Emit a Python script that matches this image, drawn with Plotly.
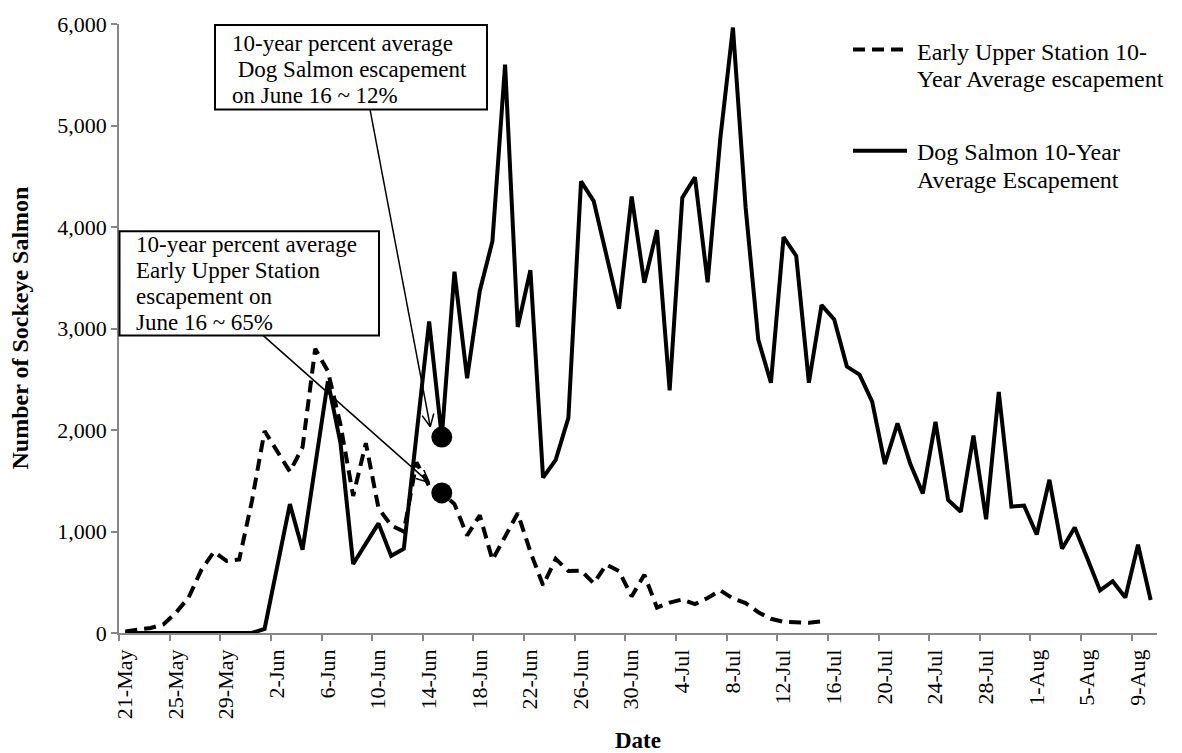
import math
import plotly.graph_objects as go

# ---- categories: one per day, 21-May through 10-Aug ----
day_labels = ([f"{d}-May" for d in range(21, 32)]
              + [f"{d}-Jun" for d in range(1, 31)]
              + [f"{d}-Jul" for d in range(1, 32)]
              + [f"{d}-Aug" for d in range(1, 11)])
tick_labels = day_labels[::4]

# ---- daily 10-year average escapement ----
early_upper = [15, 30, 50, 85, 200, 350, 620, 800, 710, 725,
               1300, 1990, 1790, 1590, 1830, 2800, 2580, 2050, 1350, 1870,
               1230, 1060, 1000, 1680, 1450, 1380, 1270, 960, 1160, 720,
               950, 1180, 800, 470, 730, 610, 615, 490, 675, 610,
               360, 575, 250, 300, 330, 285, 345, 420, 340, 295,
               205, 140, 110, 105, 100, 115]

dog_salmon = [0, 0, 0, 0, 0, 0, 0, 0, 0, 0,
              0, 40, 650, 1270, 820, 1650, 2480, 1870, 680, 880,
              1080, 760, 830, 1950, 3070, 1930, 3560, 2510, 3370, 3860,
              5600, 3015, 3575, 1530, 1705, 2120, 4450, 4255, 3720, 3195,
              4300, 3450, 3970, 2390, 4290, 4490, 3455, 4870, 5965, 4195,
              2890, 2465, 3900, 3715, 2465, 3230, 3090, 2625, 2545, 2280,
              1665, 2065, 1670, 1375, 2080, 1310, 1195, 1945, 1120, 2375,
              1245, 1255, 970, 1510, 830, 1040, 735, 420, 510, 350,
              870, 325]

series_names = ["Early Upper Station 10-Year Average escapement",
                "Dog Salmon 10-Year Average Escapement"]
callout_day = 25  # day index highlighted by the two callouts

# ---- page geometry (pixels) ----
FIG_W, FIG_H = 1182, 753
M_L, M_R, M_T, M_B = 119, 25, 13, 120
PW = FIG_W - M_L - M_R
PH = FIG_H - M_T - M_B
N_DAYS = len(day_labels)
Y_MAX = 6000
FONT = "Liberation Serif"
AXIS_GRAY = "#868686"
DASH = "12px,7px"


def xp(px):
    return (px - M_L) / PW


def yp(py):
    return (FIG_H - M_B - py) / PH


def data_px(i, v):
    return M_L + (i + 0.5) * PW / N_DAYS, (FIG_H - M_B) - v / Y_MAX * PH


x_idx = list(range(N_DAYS))

fig = go.Figure()
fig.add_trace(go.Scatter(
    x=x_idx[:len(early_upper)], y=early_upper, mode="lines",
    name=series_names[0], showlegend=False,
    line=dict(color="black", width=4, dash=DASH)))
fig.add_trace(go.Scatter(
    x=x_idx, y=dog_salmon, mode="lines",
    name=series_names[1], showlegend=False,
    line=dict(color="black", width=4)))
fig.add_trace(go.Scatter(
    x=[callout_day, callout_day],
    y=[dog_salmon[callout_day], early_upper[callout_day]],
    mode="markers", showlegend=False,
    marker=dict(color="black", size=21)))

shapes = []
annotations = []


def text_line(txt, px, py, size=23):
    annotations.append(dict(
        text=txt, xref="paper", yref="paper", x=xp(px), y=yp(py),
        xanchor="left", yanchor="middle", showarrow=False,
        font=dict(family=FONT, size=size, color="black")))


def box(x0, y0, x1, y1):
    shapes.append(dict(type="rect", xref="paper", yref="paper",
                       x0=xp(x0), x1=xp(x1), y0=yp(y1), y1=yp(y0),
                       line=dict(color="black", width=2),
                       fillcolor="white", layer="above"))


def seg(x0, y0, x1, y1, width=1.5, dash=None):
    ln = dict(color="black", width=width)
    if dash:
        ln["dash"] = dash
    shapes.append(dict(type="line", xref="paper", yref="paper",
                       x0=xp(x0), y0=yp(y0), x1=xp(x1), y1=yp(y1),
                       line=ln, layer="above"))


def callout(tail, tip, arm=14, spread=25):
    seg(tail[0], tail[1], tip[0], tip[1])
    dx, dy = tail[0] - tip[0], tail[1] - tip[1]
    ang = math.atan2(dy, dx)
    for s in (-1, 1):
        a = ang + s * math.radians(spread)
        seg(tip[0], tip[1], tip[0] + arm * math.cos(a), tip[1] + arm * math.sin(a))


# callout boxes
box(215, 14, 487, 100)
text_line("10-year percent average", 230, 33)
text_line(" Dog Salmon escapement", 230, 59.5)
text_line("on June 16 ~ 12%", 230, 86)

box(119.5, 224, 379, 330)
text_line("10-year percent average", 134, 237.5)
text_line("Early Upper Station", 134, 264)
text_line("escapement on", 134, 290.5)
text_line("June 16 ~ 65%", 134, 317)

# callout leaders, ending just up-left of the highlighted points
dpx, dpy = data_px(callout_day, dog_salmon[callout_day])
epx, epy = data_px(callout_day, early_upper[callout_day])
callout((370, 100), (dpx - 11.5, dpy - 10.5))
callout((263, 330), (epx - 12.5, epy - 10.5))

# legend
seg(853, 39, 907, 39, width=4, dash=DASH)
text_line("Early Upper Station 10-", 915, 41, size=24)
text_line("Year Average escapement", 915, 69, size=24)
seg(853, 142, 907, 142, width=4)
text_line("Dog Salmon 10-Year", 915, 143.7, size=24)
text_line("Average Escapement", 915, 171.7, size=24)

# axis titles
annotations.append(dict(
    text="<b>Number of Sockeye Salmon</b>", xref="paper", yref="paper",
    x=xp(19), y=0.5, textangle=-90, showarrow=False,
    xanchor="center", yanchor="middle",
    font=dict(family=FONT, size=24, color="black")))
annotations.append(dict(
    text="<b>Date</b>", xref="paper", yref="paper",
    x=0.5, y=yp(742), showarrow=False,
    xanchor="center", yanchor="middle",
    font=dict(family=FONT, size=23, color="black")))

fig.update_layout(
    width=FIG_W, height=FIG_H,
    margin=dict(l=M_L, r=M_R, t=M_T, b=M_B),
    paper_bgcolor="white", plot_bgcolor="white",
    shapes=shapes, annotations=annotations,
    xaxis=dict(range=[-0.5, N_DAYS - 0.5],
               tickvals=[i - 0.5 for i in range(0, N_DAYS, 4)],
               ticktext=tick_labels, ticklabelshift=6,
               tickangle=-90, ticks="outside", ticklen=6,
               tickcolor=AXIS_GRAY, tickwidth=1.5,
               showline=True, linecolor=AXIS_GRAY, linewidth=1.5,
               showgrid=False, zeroline=False,
               tickfont=dict(family=FONT, size=22, color="black")),
    yaxis=dict(range=[0, Y_MAX], tick0=0, dtick=1000, tickformat=",",
               ticks="outside", ticklen=6, tickcolor=AXIS_GRAY, tickwidth=1.5,
               showline=True, linecolor=AXIS_GRAY, linewidth=1.5,
               showgrid=False, zeroline=False,
               tickfont=dict(family=FONT, size=22, color="black")),
)

fig.write_html("out.html")
